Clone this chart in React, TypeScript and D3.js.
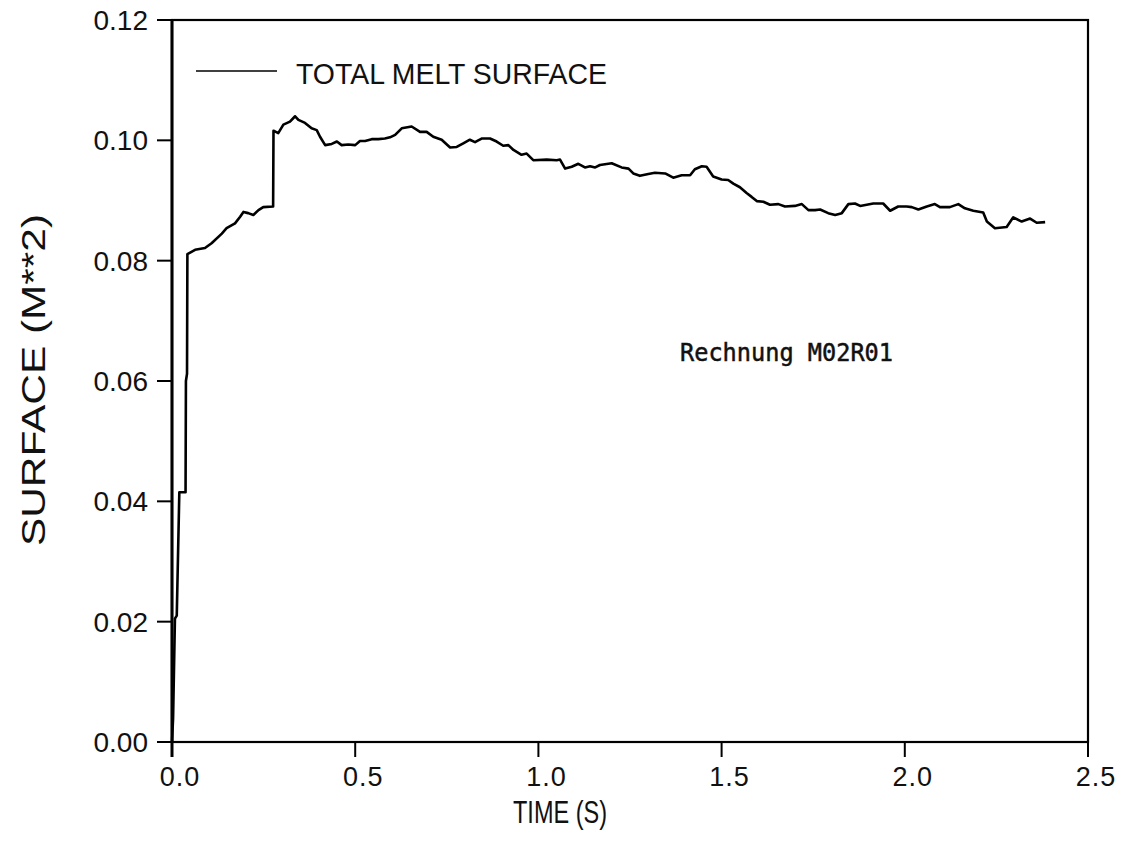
import React from "react";
import * as d3 from "d3";

// Total melt surface over time (calculation M02R01)
const timeS: number[] = [
  0.0, 0.003, 0.008, 0.013, 0.02, 0.037, 0.038, 0.041, 0.042, 0.063, 0.09, 0.108, 0.136, 0.149,
  0.172, 0.186, 0.195, 0.208, 0.222, 0.236, 0.249, 0.276, 0.277, 0.29, 0.304, 0.322, 0.336,
  0.345, 0.363, 0.381, 0.395, 0.404, 0.418, 0.436, 0.45, 0.463, 0.481, 0.5, 0.513, 0.527, 0.545,
  0.563, 0.581, 0.595, 0.609, 0.627, 0.654, 0.677, 0.695, 0.713, 0.736, 0.759, 0.777, 0.795,
  0.813, 0.827, 0.845, 0.868, 0.886, 0.904, 0.918, 0.932, 0.954, 0.968, 0.986, 1.023, 1.05,
  1.059, 1.073, 1.091, 1.109, 1.127, 1.141, 1.155, 1.168, 1.2, 1.227, 1.246, 1.259, 1.277, 1.3,
  1.318, 1.346, 1.368, 1.391, 1.414, 1.427, 1.446, 1.459, 1.477, 1.5, 1.518, 1.532, 1.55, 1.569,
  1.582, 1.596, 1.614, 1.632, 1.655, 1.673, 1.7, 1.719, 1.737, 1.755, 1.769, 1.791, 1.81, 1.828,
  1.846, 1.864, 1.878, 1.896, 1.914, 1.941, 1.96, 1.982, 2.005, 2.019, 2.037, 2.06, 2.082, 2.096,
  2.123, 2.146, 2.164, 2.187, 2.214, 2.224, 2.246, 2.278, 2.296, 2.319, 2.342, 2.36, 2.383,
];

const surfaceM2: number[] = [
  0.0, 0.004, 0.0205, 0.021, 0.0415, 0.0415, 0.06, 0.0612, 0.0811, 0.0818, 0.0821, 0.0829, 0.0845,
  0.0854, 0.0862, 0.0873, 0.0881, 0.0879, 0.0876, 0.0884, 0.0889, 0.089, 0.1016, 0.1012, 0.1026,
  0.1031, 0.104, 0.1034, 0.1029, 0.102, 0.1017, 0.1006, 0.0992, 0.0994, 0.0998, 0.0992, 0.0993,
  0.0992, 0.0999, 0.0999, 0.1002, 0.1002, 0.1003, 0.1005, 0.1009, 0.102, 0.1023, 0.1014, 0.1014,
  0.1006, 0.1001, 0.0988, 0.0989, 0.0995, 0.1001, 0.0997, 0.1003, 0.1003, 0.0998, 0.0991, 0.0992,
  0.0984, 0.0976, 0.0978, 0.0967, 0.0968, 0.0967, 0.0968, 0.0953, 0.0956, 0.0961, 0.0955, 0.0957,
  0.0955, 0.0959, 0.0962, 0.0955, 0.0953, 0.0945, 0.0941, 0.0944, 0.0946, 0.0945, 0.0938, 0.0942,
  0.0942, 0.0952, 0.0957, 0.0956, 0.094, 0.0935, 0.0934, 0.0928, 0.0922, 0.0912, 0.0906, 0.0899,
  0.0898, 0.0893, 0.0894, 0.089, 0.0891, 0.0894, 0.0884, 0.0884, 0.0885, 0.0879, 0.0876, 0.0879,
  0.0894, 0.0895, 0.0891, 0.0893, 0.0895, 0.0895, 0.0883, 0.089, 0.089, 0.0889, 0.0885, 0.089,
  0.0894, 0.0889, 0.0889, 0.0894, 0.0887, 0.0883, 0.088, 0.0865, 0.0854, 0.0856, 0.0872, 0.0865,
  0.087, 0.0863, 0.0864,
];

const xTicks: number[] = [0, 0.5, 1.0, 1.5, 2.0, 2.5];
const yTicks: number[] = [0, 0.02, 0.04, 0.06, 0.08, 0.1, 0.12];

const seriesName = "TOTAL MELT SURFACE";
const runLabel = "Rechnung M02R01";
const xTitle = "TIME (S)";
const yTitle = "SURFACE (M**2)";

export default function App() {
  const width = 1124;
  const height = 848;
  const left = 172;
  const right = 1088;
  const top = 20;
  const bottom = 742;

  const x = d3.scaleLinear().domain([0, 2.5]).range([left, right]);
  const y = d3.scaleLinear().domain([0, 0.12]).range([bottom, top]);

  const points: [number, number][] = timeS.map((t, i) => [t, surfaceM2[i]]);
  const line = d3
    .line<[number, number]>()
    .x((d) => x(d[0]))
    .y((d) => y(d[1]));

  const fmtX = d3.format(".1f");
  const fmtY = d3.format(".2f");
  const sans = "'Liberation Sans', Arial, sans-serif";

  return (
    <svg
      width={width}
      height={height}
      style={{ position: "absolute", left: 0, top: 0, background: "#fff" }}
    >
      {/* frame */}
      <rect
        x={left}
        y={top}
        width={right - left}
        height={bottom - top}
        fill="none"
        stroke="#000"
        strokeWidth={2.2}
      />
      <line x1={left} x2={left} y1={top} y2={bottom + 15} stroke="#000" strokeWidth={3} />

      {/* y axis ticks */}
      {yTicks.map((v) => (
        <g key={`y${v}`}>
          <line x1={left - 15} x2={left} y1={y(v)} y2={y(v)} stroke="#000" strokeWidth={2} />
          <text
            x={148}
            y={y(v)}
            dy="0.36em"
            textAnchor="end"
            fontFamily={sans}
            fontSize={28}
            fill="#111"
          >
            {fmtY(v)}
          </text>
        </g>
      ))}

      {/* x axis ticks */}
      {xTicks.map((t) => (
        <g key={`x${t}`}>
          <line x1={x(t)} x2={x(t)} y1={bottom} y2={bottom + 15} stroke="#000" strokeWidth={2} />
          <text
            x={x(t) + 8}
            y={786}
            textAnchor="middle"
            fontFamily={sans}
            fontSize={27}
            letterSpacing={1}
            fill="#111"
          >
            {fmtX(t)}
          </text>
        </g>
      ))}

      {/* axis titles */}
      <text
        x={560}
        y={823}
        textAnchor="middle"
        fontFamily={sans}
        fontSize={31}
        textLength={94}
        lengthAdjust="spacingAndGlyphs"
        fill="#111"
      >
        {xTitle}
      </text>
      <text
        transform="translate(45,380) rotate(-90)"
        textAnchor="middle"
        fontFamily={sans}
        fontSize={33}
        textLength={332}
        lengthAdjust="spacingAndGlyphs"
        fill="#111"
      >
        {yTitle}
      </text>

      {/* legend */}
      <line x1={196} x2={277} y1={71} y2={71} stroke="#000" strokeWidth={1.5} />
      <text
        x={296}
        y={84}
        fontFamily={sans}
        fontSize={30}
        textLength={311}
        lengthAdjust="spacingAndGlyphs"
        fill="#111"
      >
        {seriesName}
      </text>

      {/* run annotation */}
      <text
        x={680}
        y={361}
        fontFamily="'DejaVu Sans Mono', 'Liberation Mono', monospace"
        fontSize={24}
        textLength={213}
        lengthAdjust="spacingAndGlyphs"
        fill="#111"
        stroke="#111"
        strokeWidth={0.5}
      >
        {runLabel}
      </text>

      {/* data curve */}
      <path
        d={line(points) ?? ""}
        fill="none"
        stroke="#000"
        strokeWidth={2.6}
        strokeLinejoin="round"
      />
    </svg>
  );
}
